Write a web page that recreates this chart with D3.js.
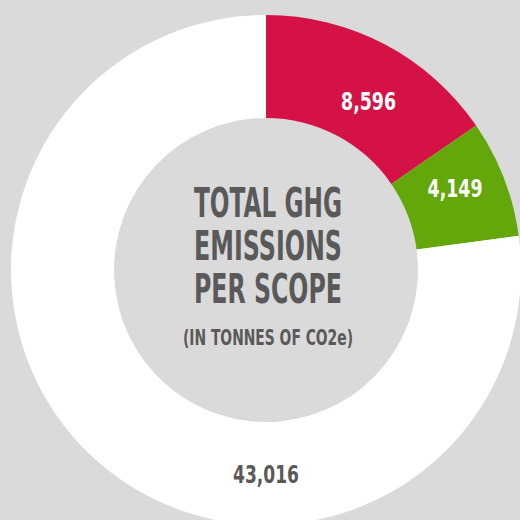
<!DOCTYPE html>
<html>
<head>
<meta charset="utf-8">
<title>Total GHG emissions per scope</title>
<style>
html, body { margin: 0; padding: 0; background: #dadada; }
svg { display: block; }
text { font-family: "DejaVu Sans", sans-serif; font-weight: bold; }
</style>
</head>
<body>
<svg id="chart" width="520" height="520"></svg>
<script src="https://cdn.jsdelivr.net/npm/d3@7"></script>
<script>
// scope values (tonnes CO2e), clockwise from 12 o'clock
var scopes = ["Scope 1", "Scope 2", "Scope 3"];
var values = [8596, 4149, 43016];
var colors = ["#d41245", "#63a70b", "#ffffff"];
var labelColors = ["#ffffff", "#ffffff", "#595959"];
var titleLines = ["TOTAL GHG", "EMISSIONS", "PER SCOPE"];
var subtitle = "(IN TONNES OF CO2e)";

var cx = 266, cy = 270, outerR = 255, innerR = 152;

var svg = d3.select("#chart");
var g = svg.append("g").attr("transform", "translate(" + cx + "," + cy + ")");

var pie = d3.pie().sort(null).value(function(d) { return d; });
var arc = d3.arc().innerRadius(innerR).outerRadius(outerR);
var arcs = pie(values);

g.selectAll("path.slice")
    .data(arcs)
  .enter().append("path")
    .attr("class", "slice")
    .attr("d", arc)
    .attr("fill", function(d, i) { return colors[i]; });

// condensed look: squeeze the text to the width the narrow font would take
function squeeze(sel, perChar) {
    sel.attr("textLength", function() { return this.textContent.length * perChar; })
       .attr("lengthAdjust", "spacingAndGlyphs");
}

// labels sit in the ring; the big slice gets its label at the bottom
var fmt = d3.format(",");
g.selectAll("text.val")
    .data(arcs)
  .enter().append("text")
    .attr("class", "val")
    .attr("text-anchor", "middle")
    .attr("font-size", 25)
    .attr("fill", function(d, i) { return labelColors[i]; })
    .attr("transform", function(d, i) {
        var a = (d.startAngle + d.endAngle) / 2, r = 200;
        if (d.endAngle - d.startAngle > Math.PI) { a = Math.PI; r = 204; }
        else if (i === 0) { a += 0.06; r = 198; }
        else { a -= 0.04; r = 206; }
        return "translate(" + (r * Math.sin(a)) + "," + (-r * Math.cos(a) + 9) + ")";
    })
    .text(function(d) { return fmt(d.data); })
    .call(squeeze, 11);

// centre title
g.selectAll("text.title")
    .data(titleLines)
  .enter().append("text")
    .attr("class", "title")
    .attr("text-anchor", "middle")
    .attr("x", 2)
    .attr("y", function(d, i) { return -53 + i * 43; })
    .attr("font-size", 40)
    .attr("fill", "#595959")
    .text(function(d) { return d; })
    .attr("textLength", 148)
    .attr("lengthAdjust", "spacingAndGlyphs");

g.append("text")
    .attr("text-anchor", "middle")
    .attr("x", 2)
    .attr("y", 75)
    .attr("font-size", 20.5)
    .attr("fill", "#595959")
    .text(subtitle)
    .attr("textLength", 170)
    .attr("lengthAdjust", "spacingAndGlyphs");
</script>
</body>
</html>
